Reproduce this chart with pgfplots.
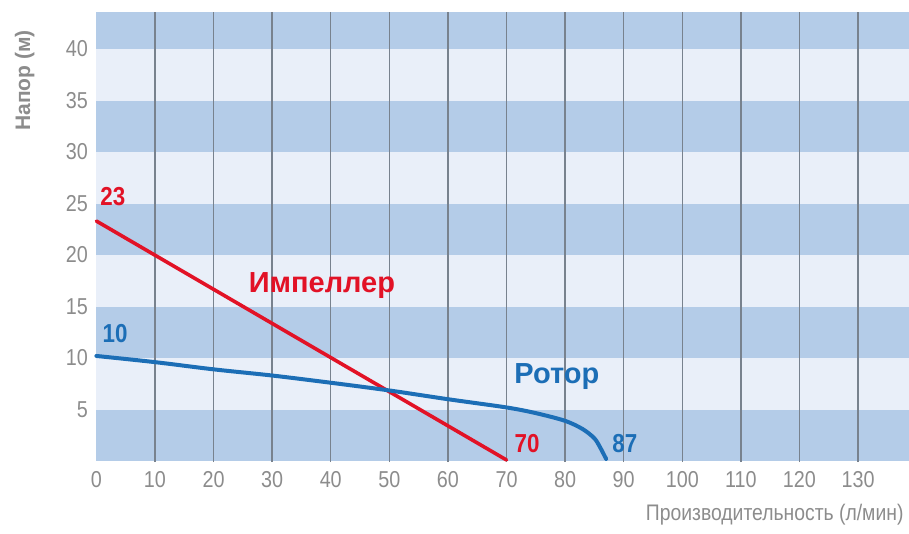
\documentclass[border=0pt]{standalone}
\usepackage{pgfplots}
\pgfplotsset{compat=1.18}
\usepackage{fontspec}
\setmainfont{Liberation Sans}
\newfontfamily\narrowfont[FakeStretch=0.86]{Liberation Sans}
\definecolor{banddark}{RGB}{180,204,232}
\definecolor{bandlight}{RGB}{233,239,249}
\definecolor{gridc}{RGB}{120,130,142}
\definecolor{tickgray}{RGB}{140,140,140}
\definecolor{redc}{RGB}{226,18,38}
\definecolor{bluec}{RGB}{28,110,182}
\begin{document}
\begin{tikzpicture}
\useasboundingbox (0,0) rectangle (909pt,533pt);
\begin{axis}[
  at={(96.4pt,72pt)}, anchor=south west,
  scale only axis, width=812.6pt, height=449pt,
  xmin=0, xmax=138.7, ymin=0, ymax=43.6,
  clip=false,
  axis line style={draw=none}, tick style={draw=none},
  xtick={0,10,...,130}, ytick={5,10,...,40},
  /pgf/number format/assume math mode=true,
  tick label style={font=\narrowfont\fontsize{23}{23}\selectfont, text=tickgray},
  xticklabel style={yshift=-7pt},
  yticklabel style={xshift=-5pt},
]
\pgfplotsinvokeforeach{0,10,20,30}{
  \fill[banddark] (axis cs:0,#1) rectangle (axis cs:138.7,#1+5);
  \fill[bandlight] (axis cs:0,#1+5) rectangle (axis cs:138.7,#1+10);
}
\fill[banddark] (axis cs:0,40) rectangle (axis cs:138.7,43.6);
\pgfplotsinvokeforeach{10,20,...,130}{
  \draw[gridc, line width=1.4pt] (axis cs:#1,-0.1) -- (axis cs:#1,43.6);
}
\addplot[redc, line width=3.6pt, line cap=round] coordinates {(0,23.3) (70,0.1)};
\addplot[bluec, line width=4pt, smooth, tension=0.5, line cap=round] coordinates {
 (0,10.2) (10,9.6) (20,8.9) (30,8.3) (40,7.6) (50,6.85) (60,6.0) (70,5.2)
 (75,4.65) (80,3.9) (83,3.1) (85,2.2) (86,1.3) (87,0.2)};
\node[anchor=base, text=redc, font=\bfseries\narrowfont\fontsize{26}{26}\selectfont] at (axis cs:2.8,24.85) {23};
\node[anchor=base, text=bluec, font=\bfseries\narrowfont\fontsize{26}{26}\selectfont] at (axis cs:3.2,11.55) {10};
\node[anchor=base, text=redc, font=\bfseries\narrowfont\fontsize{26}{26}\selectfont] at (axis cs:73.5,0.78) {70};
\node[anchor=base, text=bluec, font=\bfseries\narrowfont\fontsize{26}{26}\selectfont] at (axis cs:90.2,0.78) {87};
\node[anchor=base, text=redc, font=\bfseries\fontsize{29}{29}\selectfont] at (axis cs:38.5,16.4) {Импеллер};
\node[anchor=base, text=bluec, font=\bfseries\fontsize{29}{29}\selectfont] at (axis cs:78.6,7.57) {Ротор};
\node[anchor=base east, text=tickgray, font=\narrowfont\fontsize{22.5}{22.5}\selectfont] at (rel axis cs:1,0) [yshift=-59pt, xshift=-2pt] {Производительность (л/мин)};
\end{axis}
\node[rotate=90, anchor=base, text=tickgray, font=\bfseries\fontsize{21}{21}\selectfont] at (30pt,452.5pt) {Напор (м)};
\end{tikzpicture}
\end{document}
